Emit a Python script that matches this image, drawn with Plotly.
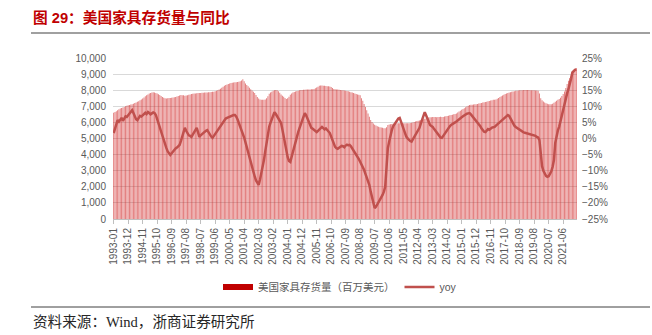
import pandas as pd
import plotly.graph_objects as go

# Monthly categories, Jan 1993 – Apr 2022
MONTHS = [p.strftime("%Y-%m") for p in pd.period_range("1993-01", "2022-04", freq="M")]

# US furniture inventories (USD mn), one row per year
INVENTORY = [
    6600, 6650, 6700, 6760, 6820, 6870, 6900, 6930, 6960, 7000, 7030, 7060,
    7080, 7110, 7130, 7160, 7200, 7230, 7280, 7320, 7370, 7420, 7480, 7540,
    7620, 7680, 7740, 7800, 7830, 7860, 7880, 7860, 7830, 7790, 7750, 7700,
    7640, 7580, 7530, 7500, 7490, 7500, 7510, 7520, 7530, 7540, 7560, 7580,
    7610, 7640, 7670, 7700, 7690, 7680, 7660, 7670, 7690, 7720, 7740, 7760,
    7780, 7790, 7800, 7810, 7820, 7830, 7830, 7840, 7840, 7850, 7850, 7860,
    7870, 7880, 7890, 7900, 7910, 7930, 7960, 8000, 8040, 8090, 8150, 8210,
    8270, 8320, 8350, 8380, 8410, 8440, 8460, 8480, 8490, 8500, 8510, 8530,
    8560, 8610, 8680, 8550, 8420, 8330, 8240, 8150, 8060, 7980, 7910, 7820,
    7700, 7580, 7480, 7430, 7410, 7400, 7410, 7430, 7500, 7620, 7780, 7850,
    7910, 7960, 7990, 8010, 8000, 7930, 7840, 7740, 7660, 7590, 7520, 7460,
    7500, 7600, 7710, 7800, 7850, 7890, 7920, 7950, 7970, 7990, 8010, 8020,
    8030, 8030, 8040, 8040, 8050, 8050, 8060, 8060, 8080, 8120, 8170, 8220,
    8270, 8290, 8290, 8280, 8270, 8260, 8250, 8240, 8230, 8200, 8140, 8080,
    8060, 8050, 8040, 8030, 8010, 8000, 7990, 7980, 7960, 7950, 7930, 7910,
    7880, 7850, 7820, 7790, 7760, 7740, 7710, 7680, 7500, 7350, 7150, 6950,
    6750, 6560, 6350, 6150, 6020, 5930, 5850, 5800, 5760, 5730, 5700, 5680,
    5660, 5640, 5630, 5700, 5840, 5870, 5890, 5900, 5910, 5920, 5930, 5940,
    5940, 5950, 5950, 5940, 5940, 5950, 5950, 5940, 5950, 5960, 5980, 6000,
    6030, 6050, 6080, 6100, 6120, 6150, 6170, 6190, 6220, 6250, 6280, 6300,
    6320, 6320, 6330, 6330, 6330, 6320, 6330, 6340, 6350, 6330, 6340, 6360,
    6380, 6400, 6420, 6440, 6460, 6480, 6500, 6520, 6560, 6620, 6680, 6730,
    6780, 6830, 6880, 6940, 6990, 7040, 7080, 7090, 7100, 7110, 7120, 7130,
    7150, 7170, 7190, 7210, 7230, 7250, 7270, 7290, 7310, 7330, 7360, 7380,
    7400, 7410, 7430, 7470, 7520, 7570, 7620, 7670, 7720, 7760, 7800, 7830,
    7860, 7880, 7900, 7920, 7940, 7960, 7970, 7980, 7990, 8000, 8000, 8010,
    8010, 8010, 8020, 8010, 8000, 8000, 7990, 7990, 7980, 7980, 7970, 7800,
    7500, 7380, 7300, 7240, 7190, 7160, 7130, 7120, 7130, 7160, 7220, 7290,
    7350, 7400, 7450, 7530, 7640, 7760, 7920, 8130, 8380, 8580, 8760, 8920,
    9080, 9220, 9320, 9380,
]

# Year-on-year change (%)
YOY = [
    1.7, 3.2, 4.8, 5.7, 5.2, 6.0, 6.4, 5.5, 6.2, 6.9, 6.7, 7.2,
    7.8, 8.3, 8.8, 7.9, 7.0, 6.0, 5.7, 6.4, 7.0, 6.8, 7.3, 7.7,
    8.0, 7.6, 8.2, 7.9, 7.5, 7.8, 8.1, 7.9, 7.3, 6.0, 4.6, 3.2,
    1.8, 0.5, -0.8, -2.0, -3.0, -4.0, -4.8, -5.1, -4.6, -4.0, -3.6, -3.1,
    -2.8, -2.4, -2.0, -0.8, 0.8, 2.2, 3.3, 2.4, 1.6, 1.0, 0.8, 0.5,
    1.2, 2.0, 2.8, 3.3, 2.0, 0.5, 1.0, 1.4, 1.9, 2.2, 2.4, 2.6,
    1.8, 1.2, 0.6, 0.2, 0.8, 1.4, 2.0, 2.6, 3.3, 4.0, 4.8, 5.4,
    5.9, 6.2, 6.4, 6.6, 6.9, 7.1, 7.2, 7.3, 7.3, 6.8, 5.9, 4.8,
    4.2, 3.0, 2.0, 0.3, -1.2, -2.8, -4.4, -6.0, -7.4, -8.6, -10.2, -11.8,
    -13.0, -13.8, -14.4, -12.8, -11.0, -8.9, -6.7, -4.0, -1.2, 1.6, 3.6, 4.9,
    6.2, 7.3, 8.2, 7.6, 6.8, 6.0, 5.3, 4.8, 2.8, 0.5, -1.8, -4.0,
    -5.8, -7.0, -7.3, -5.7, -4.0, -2.2, -0.6, 0.8, 2.0, 3.2, 4.4, 5.6,
    6.8, 7.9, 7.2, 6.2, 5.2, 4.2, 3.3, 3.0, 2.6, 2.3, 2.0, 2.4,
    2.9, 3.3, 3.6, 3.2, 2.8, 3.1, 2.5, 2.0, 1.7, 0.6, -0.6, -1.8,
    -2.6, -3.0, -3.2, -2.9, -2.6, -2.3, -2.4, -2.7, -2.2, -1.9, -2.1, -2.0,
    -2.4, -3.0, -3.6, -4.2, -4.8, -5.6, -6.4, -7.2, -8.0, -8.8, -9.8, -11.0,
    -12.2, -13.2, -14.5, -16.5, -18.5, -20.3, -21.6, -21.2, -20.5, -19.7, -18.8, -18.0,
    -17.5, -16.5, -15.0, -9.0, -3.0, -1.0, 1.0, 2.6, 3.8, 4.5, 5.2, 5.8,
    6.2, 6.4, 5.2, 3.8, 2.4, 1.1, 0.6, 0.0, -0.5, -0.8, -1.0, -0.3,
    0.4, 1.2, 2.0, 2.7, 3.3, 4.6, 6.0, 7.2, 8.2, 7.2, 6.0, 4.8,
    4.2, 3.9, 3.6, 3.0, 2.4, 1.8, 1.2, 0.6, 0.3, 0.2, 0.8, 1.5,
    2.2, 2.9, 3.4, 3.8, 4.2, 4.4, 4.7, 5.0, 5.3, 5.7, 6.0, 6.3,
    6.6, 6.9, 7.2, 7.5, 7.7, 7.8, 7.9, 7.5, 7.0, 6.5, 6.1, 5.7,
    5.1, 4.5, 3.9, 3.2, 2.6, 2.1, 2.0, 2.4, 2.9, 2.7, 3.2, 3.4,
    3.5, 3.6, 4.0, 4.4, 4.8, 5.2, 5.6, 6.0, 6.4, 6.8, 7.1, 7.3,
    7.0, 6.2, 5.4, 4.7, 4.0, 3.6, 3.3, 3.0, 2.7, 2.4, 2.1, 1.9,
    1.8, 1.7, 1.6, 1.4, 1.3, 1.1, 1.0, 0.9, 0.8, 0.5, 0.3, -0.5,
    -4.0, -8.6, -10.0, -11.0, -11.6, -11.9, -11.7, -11.0, -10.2, -8.8, -6.7, -1.4,
    1.2, 2.5, 3.7, 5.6, 7.3, 9.2, 11.0, 12.8, 14.0, 15.3, 16.6, 18.6,
    20.5, 21.0, 21.3, 21.5,
]

# Category labels shown on the x axis
TICK_LABELS = [
    "1993-01", "1993-12", "1994-11", "1995-10", "1996-09", "1997-08", "1998-07",
    "1999-06", "2000-05", "2001-04", "2002-03", "2003-02", "2004-01", "2004-12",
    "2005-11", "2006-10", "2007-09", "2008-08", "2009-07", "2010-06", "2011-05",
    "2012-04", "2013-03", "2014-02", "2015-01", "2015-12", "2016-11", "2017-10",
    "2018-09", "2019-08", "2020-07", "2021-06",
]

TITLE = "图 29：美国家具存货量与同比"
SOURCE = "资料来源：Wind，浙商证券研究所"
BAR_NAME = "美国家具存货量（百万美元）"
LINE_NAME = "yoy"

W, H = 652, 335
L, R, T, B = 113, 577, 58, 219  # plot-area pixel box


def px(x):
    return (x - L) / (R - L)


def py(y):
    return (B - y) / (B - T)


SANS = "Liberation Sans, Arial, Noto Sans CJK SC, sans-serif"
TICK_FONT = dict(family=SANS, size=10, color="#595959")

fig = go.Figure()

fig.add_trace(go.Bar(
    x=MONTHS, y=INVENTORY, name=BAR_NAME, showlegend=False,
    marker=dict(color="rgba(205,25,25,0.6)", line=dict(width=0)),
    yaxis="y",
))
# legend key for the bar series
fig.add_trace(go.Scatter(
    x=[None], y=[None], mode="lines", name=BAR_NAME,
    line=dict(color="#C00000", width=6),
))
fig.add_trace(go.Scatter(
    x=MONTHS, y=YOY, name=LINE_NAME, mode="lines",
    line=dict(color="#C0504D", width=2.5),
    yaxis="y2",
))

fig.update_layout(
    width=W, height=H,
    margin=dict(l=L, r=W - R, t=T, b=H - B),
    paper_bgcolor="white", plot_bgcolor="white",
    bargap=0.32,
    showlegend=True,
    legend=dict(
        orientation="h", x=px(218), y=py(287), xanchor="left", yanchor="middle",
        font=dict(family=SANS, size=10.5, color="#595959"),
        bgcolor="rgba(0,0,0,0)", itemwidth=30, tracegroupgap=0,
    ),
    xaxis=dict(
        type="category", tickmode="array", tickvals=TICK_LABELS, ticktext=TICK_LABELS,
        tickangle=-90, tickfont=TICK_FONT, showgrid=False,
        showline=True, linecolor="#BFBFBF", linewidth=1,
        ticks="outside", ticklen=4, tickcolor="#BFBFBF",
        range=[-0.5, len(MONTHS) - 0.5],
    ),
    yaxis=dict(
        range=[0, 10000], dtick=1000, tickformat=",d", tickfont=TICK_FONT,
        showgrid=True, gridcolor="#D9D9D9", gridwidth=1, zeroline=False,
        showline=False, ticks="", ticklabelstandoff=6,
    ),
    yaxis2=dict(
        range=[-25, 25], dtick=5, ticksuffix="%", tickfont=TICK_FONT,
        overlaying="y", side="right", showgrid=False, zeroline=False,
        showline=False, ticks="", ticklabelstandoff=4,
    ),
    shapes=[
        dict(type="line", xref="paper", yref="paper", x0=px(31), x1=px(650),
             y0=py(33), y1=py(33), line=dict(color="#808080", width=1.5)),
        dict(type="line", xref="paper", yref="paper", x0=px(31), x1=px(650),
             y0=py(307), y1=py(307), line=dict(color="#404040", width=1)),
    ],
    annotations=[
        dict(text="<b>" + TITLE + "</b>", xref="paper", yref="paper",
             x=px(31), y=py(17), xanchor="left", yanchor="middle", showarrow=False,
             font=dict(family="Liberation Sans, Noto Sans CJK SC", size=14.7, color="#C00000")),
        dict(text=SOURCE, xref="paper", yref="paper",
             x=px(31), y=py(322), xanchor="left", yanchor="middle", showarrow=False,
             font=dict(family="Liberation Serif, Noto Sans CJK SC", size=14.6, color="#262626")),
    ],
)

fig.write_html("out.html")
